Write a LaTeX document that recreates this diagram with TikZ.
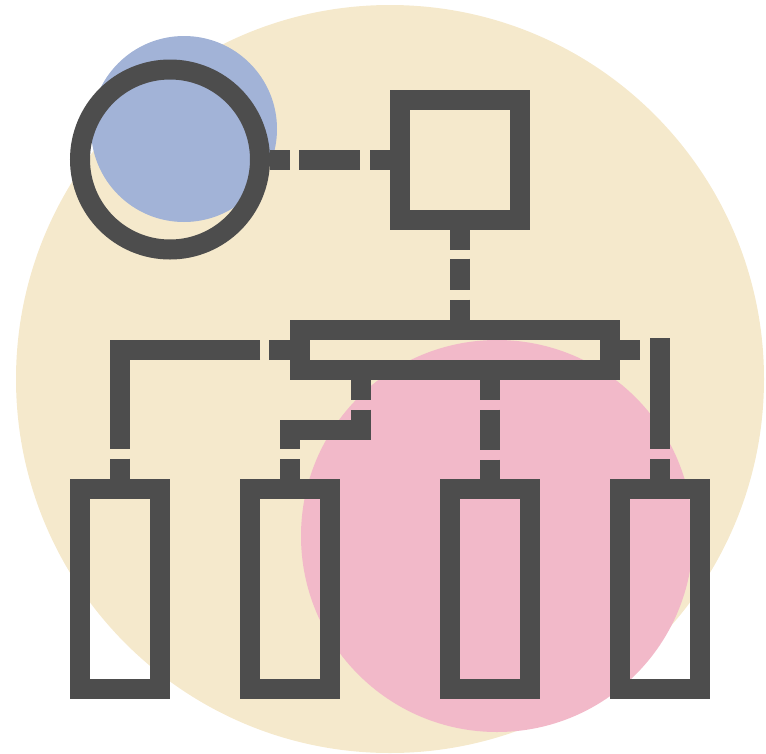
\documentclass[tikz,border=0pt]{standalone}
\usepackage{tikz}
\usetikzlibrary{calc}
\definecolor{IconInk}{HTML}{4D4D4D}
\definecolor{IconSand}{HTML}{F5E9CC}
\definecolor{IconBlue}{HTML}{A2B3D7}
\definecolor{IconPink}{HTML}{F2B9C9}
\begin{document}
\begin{tikzpicture}[
  x=1pt, y=-1pt,
  blob/.style={circle, minimum size=#1, inner sep=0pt, outer sep=0pt},
  hub/.style={draw=IconInk, line width=20pt, inner sep=0pt},
  leaf/.style={hub, minimum width=80pt, minimum height=200pt},
  link/.style={draw=IconInk, line width=20pt}
]
  \useasboundingbox (0,0) rectangle (766,753);

  % Background blobs
  \node[blob=748pt, fill=IconSand] (sand) at (390,379) {};
  \node[blob=186pt, fill=IconBlue] (sky) at (184,129) {};
  \node[blob=392pt, fill=IconPink] (rose) at (497,536) {};

  % Boxes
  \node[hub, circle, minimum size=180pt] (ring) at (170,159.5) {};
  \node[hub, minimum width=120pt, minimum height=120pt] (root) at (460,159.5) {};
  \node[hub, minimum width=310pt, minimum height=40pt] (bar) at (455,349.5) {};
  \node[leaf] (leafa) at (120,589) {};
  \node[leaf] (leafb) at (290,589) {};
  \node[leaf] (leafc) at (490,589) {};
  \node[leaf] (leafd) at (660,589) {};

  % Free ends of the links
  \coordinate (tapb) at (360.5,379.5);
  \coordinate (bendb) at (360.5,430);
  \coordinate (stubd) at (640,349.5);
  \coordinate (topd) at (660,338);

  % Links
  \draw[link, dash pattern=on 20pt off 9pt on 61pt off 10pt on 30pt]
    (ring.east) -- (root.west);
  \draw[link, dash pattern=on 20pt off 9pt on 31pt off 10pt on 30pt]
    (root.south) -- (root.south |- bar.north);
  \draw[link, dash pattern=on 21pt off 9pt on 239pt off 10pt on 30pt]
    (bar.west) -| (leafa.north);
  \draw[link, dash pattern=on 20pt off 10pt on 110pt off 10pt on 30pt]
    (tapb) -- (bendb) -| (leafb.north);
  \draw[link, dash pattern=on 20pt off 10pt on 40pt off 10pt on 30pt]
    (leafc.north |- bar.south) -- (leafc.north);
  \draw[link] (bar.east) -- (stubd);
  \draw[link, dash pattern=on 111pt off 10pt on 30pt]
    (topd) -- (leafd.north);
\end{tikzpicture}
\end{document}
